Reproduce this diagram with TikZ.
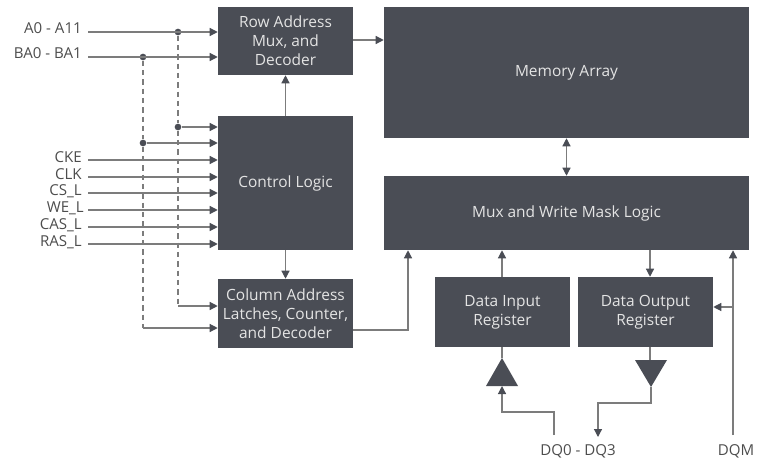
\documentclass[tikz,border=0pt]{standalone}
\usepackage{fontspec}
\setmainfont{Open Sans}
\usetikzlibrary{arrows.meta,calc}
\definecolor{boxc}{HTML}{4A4D55}
\definecolor{linec}{HTML}{7C7C7C}
\definecolor{txtc}{HTML}{E4E4E4}
\definecolor{lblc}{HTML}{4D4D4D}
\begin{document}
\begin{tikzpicture}[x=0.75pt,y=-0.75pt,
  box/.style={fill=boxc,draw=none,text=txtc,align=center,inner sep=0pt,font=\fontsize{11.6}{14.25}\selectfont},
  lbl/.style={text=lblc,inner sep=0pt,font=\fontsize{11.3}{13}\selectfont},
  wire/.style={draw=linec,line width=0.9pt},
  conn/.style={wire,-{Triangle[length=6pt,width=6pt,color=boxc]}},
  biconn/.style={wire,{Triangle[length=6pt,width=6pt,color=boxc]}-{Triangle[length=6pt,width=6pt,color=boxc]}},
  dashc/.style={wire,dash pattern=on 4pt off 3pt},
  dot/.style={circle,fill=boxc,inner sep=0pt,minimum size=5pt}]
\useasboundingbox (0,0) rectangle (770,460);
% boxes
\node[box,minimum width=101.25pt,minimum height=51pt] (row) at (285.5,41) {Row Address\\Mux, and\\Decoder};
\node[box,minimum width=273.75pt,minimum height=98.25pt] (mem) at (566.5,72.5) {Memory Array};
\node[box,minimum width=101.25pt,minimum height=100.5pt] (ctrl) at (285.5,183) {Control Logic};
\node[box,minimum width=101.25pt,minimum height=51.75pt] (col) at (285.5,313.5) {Column Address\\Latches, Counter,\\and Decoder};
\node[box,minimum width=273.75pt,minimum height=55.5pt] (mux) at (566.5,213) {Mux and Write Mask Logic};
\node[box,minimum width=101.25pt,minimum height=52.5pt] (din) at (502.5,312) {Data Input\\Register};
\node[box,minimum width=101.25pt,minimum height=52.5pt] (dout) at (645.5,312) {Data Output\\Register};
% buffers
\coordinate (tinA) at (502,358);
\coordinate (tinB) at (502,386);
\fill[boxc] (tinA) -- (518,386) -- (486,386) -- cycle;
\coordinate (toutA) at (651,387);
\coordinate (toutB) at (651,360);
\fill[boxc] (toutA) -- (635,360) -- (667,360) -- cycle;
% left labels
\node[lbl,anchor=base east] (la) at (82,34) {A0 - A11};
\node[lbl,anchor=base east] (lb) at (82,59) {BA0 - BA1};
\coordinate (ia) at (88,32);
\coordinate (ib) at (88,57);
\node[dot] (da) at (178,32) {};
\node[dot] (db) at (143,57) {};
\node[dot] (da2) at (178,127) {};
\node[dot] (db2) at (143,143) {};
\coordinate (ca) at (178,306);
\coordinate (cb) at (143,328);
\draw[conn] (ia) -- (row.west |- ia);
\draw[conn] (ib) -- (row.west |- ib);
\draw[dashc] (da) -- (da2) -- (ca);
\draw[dashc] (db) -- (db2) -- (cb);
\draw[conn] (da2) -- (ctrl.west |- da2);
\draw[conn] (db2) -- (ctrl.west |- db2);
\draw[conn] (ca) -- (col.west |- ca);
\draw[conn] (cb) -- (col.west |- cb);
\foreach \n/\t/\y/\r in {cke/CKE/160/82,clk/CLK/177/82,cs/CS\_L/193/82,we/WE\_L/210/84,cas/CAS\_L/227/82,ras/RAS\_L/244/82}{
  \node[lbl,anchor=base east] (l\n) at (\r,\y+2) {\t};
  \coordinate (i\n) at (88,\y);
  \draw[conn] (i\n) -- (ctrl.west |- i\n);
}
% internal connectors
\draw[conn] (row.east |- 0,40) -- (mem.west |- 0,40);
\draw[conn] (ctrl.north) -- (row.south);
\draw[conn] (ctrl.south) -- (col.north);
\draw[biconn] (mem.south) -- (mux.north);
\coordinate (cm) at (408,330);
\draw[conn] (col.east |- cm) -- (cm) -- (mux.south -| cm);
\draw[conn] (din.north -| tinA) -- (mux.south -| tinA);
\coordinate (xo) at (650,0);
\draw[conn] (mux.south -| xo) -- (dout.north -| xo);
\draw[wire] (din.south -| tinA) -- (tinA);
\draw[wire] (dout.south -| xo) -- (toutB -| xo);
% DQ
\node[lbl,anchor=base] (ldq) at (578,455) {DQ0 - DQ3};
\node[lbl,anchor=base] (ldqm) at (736,455) {DQM};
\coordinate (dqin) at (554,435);
\coordinate (dqin2) at (554,412);
\coordinate (dqout1) at (651,403);
\coordinate (dqout) at (598,437);
\draw[conn] (dqin) -- (dqin2) -| (tinB);
\draw[conn] (toutA) -- (dqout1) -| (dqout);
\coordinate (dqm) at (733,435);
\coordinate (br) at (733,307);
\draw[conn] (dqm) -- (mux.south -| dqm);
\draw[conn] (br) -- (dout.east |- br);
\end{tikzpicture}
\end{document}
